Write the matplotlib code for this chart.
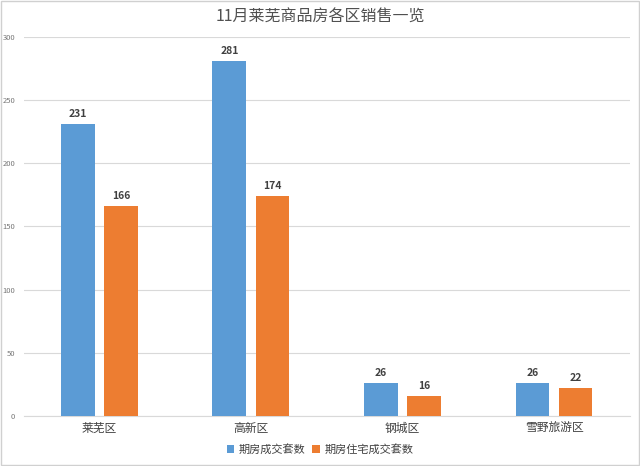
import matplotlib
matplotlib.use("Agg")
import matplotlib.pyplot as plt
import numpy as np

plt.rcParams['font.family'] = ['Noto Sans CJK SC', 'DejaVu Sans']

categories = ["莱芜区", "高新区", "钢城区", "雪野旅游区"]
series_names = ["期房成交套数", "期房住宅成交套数"]
total_units = [231, 281, 26, 26]
residential_units = [166, 174, 16, 22]
yticks = [0, 50, 100, 150, 200, 250, 300]

fig = plt.figure(figsize=(6.4, 4.66), dpi=100)
ax = fig.add_axes([0.037, 0.107, 0.947, 0.814])

x = np.arange(len(categories))
w = 0.224
off = 0.142
b1 = ax.bar(x - off, total_units, w, color="#5B9BD5", label=series_names[0], zorder=3)
b2 = ax.bar(x + off, residential_units, w, color="#ED7D31", label=series_names[1], zorder=3)

for bars, vals in ((b1, total_units), (b2, residential_units)):
    for r, v in zip(bars, vals):
        ax.text(r.get_x() + r.get_width() / 2, v + 4, str(v), ha="center", va="bottom",
                fontsize=7.5, fontweight="bold", color="#404040")

ax.set_xlim(-0.5, len(categories) - 0.5)
ax.set_ylim(0, 300)
ax.set_yticks(yticks)
ax.set_yticklabels([str(t) for t in yticks], fontsize=5.5, color="#777777")
ax.set_xticks(x)
ax.set_xticklabels(categories, fontsize=8.5, color="#404040")
ax.tick_params(axis="both", length=0, pad=4)
ax.tick_params(axis="y", pad=6)
ax.grid(axis="y", color="#D9D9D9", linewidth=0.8, zorder=0)
for s in ["top", "right", "left"]:
    ax.spines[s].set_visible(False)
ax.spines["bottom"].set_color("#D9D9D9")

fig.text(0.5, 0.963, "11月莱芜商品房各区销售一览", ha="center", va="center",
         fontsize=11.5, color="#505050", fontweight="medium")

fig.legend(handles=[b1, b2], labels=series_names, loc="center", bbox_to_anchor=(0.5, 0.035),
           ncol=2, frameon=False, fontsize=8, handlelength=0.7, handleheight=0.7,
           handletextpad=0.4, columnspacing=0.6, labelcolor="#404040")

fig.patches.append(plt.Rectangle((0.002, 0.002), 0.996, 0.996, transform=fig.transFigure,
                                 fill=False, edgecolor="#D0D0D0", linewidth=1))

fig.savefig("out.png", dpi=100)
